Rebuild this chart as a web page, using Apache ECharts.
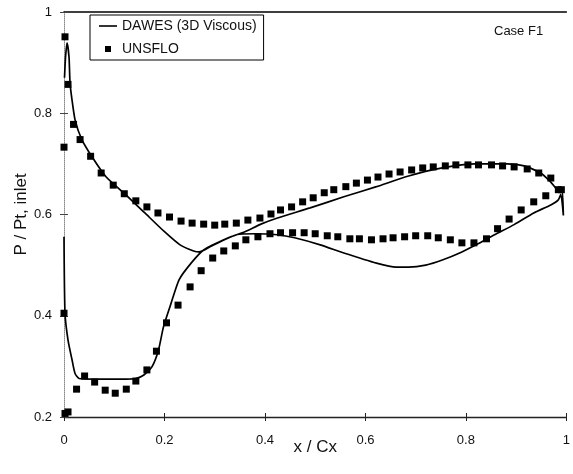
<!DOCTYPE html>
<html>
<head>
<meta charset="utf-8">
<script src="https://cdn.jsdelivr.net/npm/echarts@6/dist/echarts.min.js"></script>
<style>
	html, body { margin: 0; padding: 0; background: #fff; }
	#chart { width: 573px; height: 474px; }
</style>
</head>
<body>
<div id="chart"></div>
<script>
// DAWES (3D Viscous) - one path round the blade, starts at LE low side, ends at LE stagnation spike
var dawesPath = [
	[0.0, 0.556], [0.002, 0.405], [0.008, 0.352], [0.016, 0.313], [0.022, 0.286],
	[0.03, 0.276], [0.057, 0.275], [0.09, 0.275], [0.123, 0.275], [0.143, 0.276],
	[0.159, 0.283], [0.175, 0.299], [0.188, 0.332], [0.198, 0.378], [0.212, 0.421],
	[0.229, 0.471], [0.253, 0.504], [0.278, 0.53], [0.327, 0.554], [0.36, 0.566],
	[0.392, 0.581], [0.425, 0.593], [0.49, 0.613], [0.557, 0.635], [0.622, 0.655],
	[0.686, 0.676], [0.753, 0.692], [0.818, 0.70], [0.882, 0.70], [0.916, 0.696],
	[0.949, 0.682], [0.969, 0.664], [0.984, 0.648], [0.991, 0.650], [0.994, 0.598],
	[0.989, 0.640], [0.984, 0.629], [0.969, 0.619], [0.935, 0.603], [0.896, 0.58],
	[0.857, 0.56], [0.824, 0.542], [0.792, 0.526], [0.753, 0.51], [0.72, 0.50],
	[0.686, 0.496], [0.661, 0.496], [0.622, 0.504], [0.557, 0.524], [0.51, 0.54],
	[0.459, 0.554], [0.425, 0.56], [0.38, 0.562], [0.343, 0.56], [0.294, 0.538],
	[0.269, 0.526], [0.258, 0.528], [0.231, 0.54], [0.2, 0.566], [0.161, 0.603],
	[0.123, 0.639], [0.084, 0.674], [0.057, 0.712], [0.035, 0.749], [0.022, 0.787],
	[0.016, 0.826], [0.012, 0.86], [0.01, 0.911], [0.006, 0.939], [0.003, 0.91],
	[0.001, 0.87]
];
// UNSFLO upper row (high pressure side)
var unsfloUpper = [
	[0.002, 0.951], [0.008, 0.857], [0.019, 0.778], [0.032, 0.748], [0.053, 0.715],
	[0.074, 0.682], [0.098, 0.658], [0.12, 0.641], [0.143, 0.627], [0.165, 0.615],
	[0.187, 0.603], [0.21, 0.595], [0.233, 0.587], [0.255, 0.583], [0.278, 0.581],
	[0.3, 0.579], [0.32, 0.581], [0.343, 0.583], [0.366, 0.589], [0.39, 0.593],
	[0.412, 0.601], [0.431, 0.609], [0.453, 0.615], [0.475, 0.625], [0.496, 0.633],
	[0.518, 0.643], [0.537, 0.649], [0.561, 0.655], [0.582, 0.662], [0.604, 0.668],
	[0.625, 0.674], [0.647, 0.68], [0.669, 0.684], [0.692, 0.688], [0.714, 0.692],
	[0.735, 0.694], [0.759, 0.696], [0.78, 0.698], [0.804, 0.698], [0.825, 0.698],
	[0.851, 0.698], [0.873, 0.696], [0.896, 0.694], [0.922, 0.69], [0.945, 0.682],
	[0.969, 0.672], [0.99, 0.649]
];
// UNSFLO lower row (suction side)
var unsfloLower = [
	[0.0, 0.733], [0.0, 0.405], [0.002, 0.207], [0.008, 0.21], [0.025, 0.255],
	[0.041, 0.281], [0.061, 0.269], [0.082, 0.253], [0.102, 0.247], [0.124, 0.255],
	[0.143, 0.271], [0.165, 0.293], [0.184, 0.33], [0.204, 0.386], [0.227, 0.421],
	[0.251, 0.457], [0.273, 0.489], [0.296, 0.514], [0.318, 0.528], [0.341, 0.538],
	[0.362, 0.55], [0.386, 0.556], [0.41, 0.562], [0.431, 0.564], [0.455, 0.564],
	[0.478, 0.564], [0.5, 0.562], [0.524, 0.558], [0.545, 0.556], [0.569, 0.552],
	[0.588, 0.552], [0.612, 0.55], [0.635, 0.552], [0.655, 0.554], [0.678, 0.556],
	[0.7, 0.558], [0.724, 0.558], [0.745, 0.554], [0.769, 0.55], [0.792, 0.544],
	[0.816, 0.544], [0.841, 0.552], [0.863, 0.572], [0.886, 0.591], [0.91, 0.609],
	[0.935, 0.625], [0.959, 0.637], [0.984, 0.649]
];
var seriesNames = ["DAWES (3D Viscous)", "UNSFLO"];
var caseLabel = "Case F1";
var xName = "x / Cx";
var yName = "P / Pt, inlet";

var font = "'Liberation Sans', Arial, sans-serif";
var ink = "#111";

var myChart = echarts.init(document.getElementById("chart"), null, { renderer: "canvas" });

// 图例图标: thin bar for the line, small square for the points
var lineIcon = "path://M0,0h18v1.6h-18z";
var squareIcon = "path://M0,0h10v10h-10z";

// 坐标轴: bottom with labels, a second one for inside ticks, top just a line
var option = {
	backgroundColor: "#fff",
	animation: false,
	title: {
		text: caseLabel,
		left: 489,
		top: 20,
		textStyle: { fontFamily: font, fontSize: 13, fontWeight: "normal", color: ink }
	},
	legend: {
		data: [{ name: seriesNames[0], icon: lineIcon }, { name: seriesNames[1], icon: squareIcon }],
		orient: "vertical",
		left: 90,
		top: 15,
		itemWidth: 18,
		itemHeight: 6,
		itemGap: 9,
		symbolKeepAspect: true,
		padding: [4, 7, 4, 9],
		borderColor: "#000",
		borderWidth: 1,
		borderRadius: 0,
		textStyle: { fontFamily: font, fontSize: 14, color: ink }
	},
	grid: { left: 64, right: 0, top: 12, bottom: 57 },
	xAxis: [{
		type: "value",
		min: 0, max: 1, interval: 0.2,
		name: xName,
		nameLocation: "middle",
		nameGap: 22,
		nameMoveOverlap: false,
		nameTextStyle: { fontFamily: font, fontSize: 17, color: ink },
		axisLine: { show: true, onZero: false, lineStyle: { color: "#222", width: 1.3 } },
		axisTick: { show: true, length: 4, lineStyle: { color: "#222" } },
		axisLabel: { margin: 17, fontFamily: font, fontSize: 13, color: ink },
		splitLine: { show: false }
	}, {
		type: "value",
		position: "bottom",
		min: 0, max: 1, interval: 0.2,
		axisLine: { show: false },
		axisTick: { show: true, inside: true, length: 4, lineStyle: { color: "#222" } },
		axisLabel: { show: false },
		splitLine: { show: false }
	}, {
		type: "value",
		position: "top",
		min: 0, max: 1,
		axisLine: { show: true, onZero: false, lineStyle: { color: "#000", width: 1.5 } },
		axisTick: { show: false },
		axisLabel: { show: false },
		splitLine: { show: false }
	}],
	yAxis: [{
		type: "value",
		min: 0.2, max: 1, interval: 0.2,
		name: yName,
		nameLocation: "middle",
		nameGap: 34,
		nameMoveOverlap: false,
		nameTextStyle: { fontFamily: font, fontSize: 17, color: ink },
		axisLine: { show: true, onZero: false, lineStyle: { color: "#888", width: 1, type: "dotted" } },
		axisTick: { show: true, length: 4, lineStyle: { color: "#444" } },
		axisLabel: { margin: 12, fontFamily: font, fontSize: 13, color: ink },
		splitLine: { show: false }
	}, {
		type: "value",
		position: "left",
		min: 0.2, max: 1, interval: 0.2,
		axisLine: { show: false },
		axisTick: { show: true, inside: true, length: 4, lineStyle: { color: "#444" } },
		axisLabel: { show: false },
		splitLine: { show: false }
	}],
	series: [{
		name: seriesNames[0],
		type: "line",
		data: dawesPath,
		symbol: "none",
		smooth: 0.2,
		lineStyle: { color: "#000", width: 1.7 },
		itemStyle: { color: "#000" },
		z: 3
	}, {
		name: seriesNames[1],
		type: "scatter",
		data: unsfloUpper.concat(unsfloLower),
		symbol: "rect",
		symbolSize: 7,
		itemStyle: { color: "#000", opacity: 1 },
		z: 4
	}]
};
myChart.setOption(option);
</script>
</body>
</html>
